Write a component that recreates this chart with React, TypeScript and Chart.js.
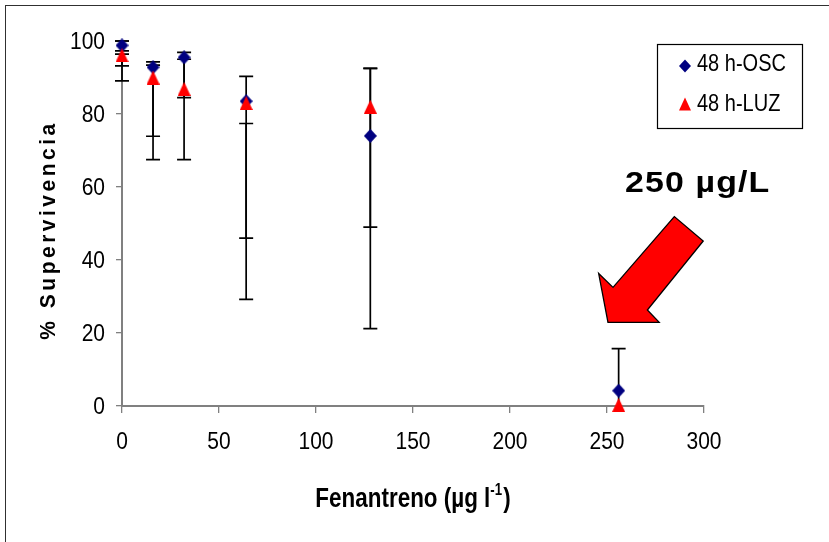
import React, { useEffect, useRef } from "react";
import { Chart, registerables } from "chart.js";

Chart.register(...registerables);

// ---- data ----
const concentrations = [0, 16, 32, 64, 128, 256];
const oscValues = [98.8, 92.8, 95.5, 83.5, 74.0, 4.2];
const luzValues = [96.1, 90.0, 86.9, 83.0, 82.0, 0.3];

// error bar segments: x position, lower end, upper end
const errX = [0, 0, 0, 16, 16, 32, 32, 64, 64, 128, 128, 256];
const errLow = [89.1, 93.2, 97.3, 73.9, 67.5, 84.5, 67.5, 46.0, 29.2, 49.0, 21.2, -7.0];
const errHigh = [100, 96.4, 100, 94.3, 93.4, 96.9, 95.0, 90.3, 77.4, 92.5, 92.5, 15.7];

const xTicks = [0, 50, 100, 150, 200, 250, 300];
const yTicks = [0, 20, 40, 60, 80, 100];

const seriesNames = ["48 h-OSC", "48 h-LUZ"];
const annotationText = "250 µg/L";
// arrow outline in data units (x, y)
const arrowX = [250.5, 245.7, 253.1, 284.7, 299.6, 270.8, 276.9];
const arrowY = [22.9, 36.3, 32.5, 51.9, 45.2, 26.3, 22.9];

const FONT = '"Liberation Sans", Arial, Helvetica, sans-serif';
const OSC_COLOR = "#000080";
const LUZ_COLOR = "#ff0000";

function makeMarker(kind: "diamond" | "triangle", w: number, h: number, color: string) {
  const c = document.createElement("canvas");
  c.width = w;
  c.height = h;
  const g = c.getContext("2d")!;
  g.fillStyle = color;
  g.beginPath();
  if (kind === "diamond") {
    g.moveTo(w / 2, 0);
    g.lineTo(w, h / 2);
    g.lineTo(w / 2, h);
    g.lineTo(0, h / 2);
  } else {
    g.moveTo(w / 2, 0);
    g.lineTo(w, h);
    g.lineTo(0, h);
  }
  g.closePath();
  g.fill();
  return c;
}

function drawText(
  ctx: CanvasRenderingContext2D,
  s: string,
  x: number,
  y: number,
  font: string,
  align: CanvasTextAlign,
  baseline: CanvasTextBaseline,
  sx = 1,
  sy = 1,
  spacing = 0,
  rot = 0
) {
  ctx.save();
  ctx.translate(x, y);
  if (rot) ctx.rotate(rot);
  ctx.scale(sx, sy);
  ctx.font = font;
  (ctx as any).letterSpacing = spacing + "px";
  ctx.textAlign = align;
  ctx.textBaseline = baseline;
  ctx.fillStyle = "#000";
  ctx.fillText(s, 0, 0);
  ctx.restore();
}

const overlayPlugin = {
  id: "overlay",
  beforeDatasetsDraw(chart: any) {
    const ctx: CanvasRenderingContext2D = chart.ctx;
    const xs = chart.scales.x;
    const ys = chart.scales.y;
    const area = chart.chartArea;
    ctx.save();
    ctx.beginPath();
    ctx.rect(area.left - 10, area.top - 1, area.right - area.left + 20, area.bottom - area.top + 2);
    ctx.clip();
    ctx.strokeStyle = "#000";
    ctx.lineWidth = 1.7;
    const cap = 7;
    for (let i = 0; i < errX.length; i++) {
      const px = xs.getPixelForValue(errX[i]);
      const lo = Math.max(0, errLow[i]);
      const hi = Math.min(100, errHigh[i]);
      const pLo = ys.getPixelForValue(lo);
      const pHi = ys.getPixelForValue(hi);
      ctx.beginPath();
      ctx.moveTo(px, pLo);
      ctx.lineTo(px, pHi);
      if (errLow[i] >= 0) {
        ctx.moveTo(px - cap, pLo);
        ctx.lineTo(px + cap, pLo);
      }
      if (errHigh[i] <= 100) {
        ctx.moveTo(px - cap, pHi);
        ctx.lineTo(px + cap, pHi);
      }
      ctx.stroke();
    }
    ctx.restore();
  },
  afterDraw(chart: any) {
    const ctx: CanvasRenderingContext2D = chart.ctx;
    const xs = chart.scales.x;
    const ys = chart.scales.y;
    const area = chart.chartArea;

    // tick labels
    const tickFont = "21px " + FONT;
    for (const v of yTicks) {
      drawText(ctx, String(v), area.left - 17, ys.getPixelForValue(v) + 1, tickFont, "right", "middle", 1, 1.15);
    }
    for (const v of xTicks) {
      drawText(ctx, String(v), xs.getPixelForValue(v), area.bottom + 36, tickFont, "center", "middle", 1, 1.15);
    }

    // y title
    drawText(ctx, "% Supervivencia", 49, 230, "bold 21px " + FONT, "center", "middle", 1, 1.05, 3.5, -Math.PI / 2);

    // x title with superscript
    {
      const cx = (area.left + area.right) / 2;
      const base = 507;
      const f1 = "bold 22px " + FONT;
      const f2 = "bold 13px " + FONT;
      const p1 = "Fenantreno (µg l";
      const p2 = "-1";
      const p3 = ")";
      ctx.save();
      ctx.font = f1;
      const w1 = ctx.measureText(p1).width;
      const w3 = ctx.measureText(p3).width;
      ctx.font = f2;
      const w2 = ctx.measureText(p2).width;
      const sx = 1.02;
      const sy = 1.22;
      const total = (w1 + w2 + w3 + 1) * sx;
      const start = cx - total / 2;
      ctx.restore();
      drawText(ctx, p1, start, base, f1, "left", "alphabetic", sx, sy);
      drawText(ctx, p2, start + w1 * sx, base - 12, f2, "left", "alphabetic", sx, sy);
      drawText(ctx, p3, start + (w1 + w2 + 1) * sx, base, f1, "left", "alphabetic", sx, sy);
    }

    // legend
    ctx.save();
    ctx.fillStyle = "#fff";
    ctx.fillRect(657.5, 44.5, 145, 84);
    ctx.strokeStyle = "#000";
    ctx.lineWidth = 1.2;
    ctx.strokeRect(657.5, 44.5, 145, 84);
    ctx.fillStyle = OSC_COLOR;
    ctx.beginPath();
    ctx.moveTo(685, 59.5);
    ctx.lineTo(691, 66);
    ctx.lineTo(685, 72.5);
    ctx.lineTo(679, 66);
    ctx.closePath();
    ctx.fill();
    ctx.fillStyle = LUZ_COLOR;
    ctx.beginPath();
    ctx.moveTo(685, 97.5);
    ctx.lineTo(691, 110.5);
    ctx.lineTo(679, 110.5);
    ctx.closePath();
    ctx.fill();
    ctx.restore();
    const legFont = "20px " + FONT;
    drawText(ctx, seriesNames[0], 697, 64, legFont, "left", "middle", 1, 1.2);
    drawText(ctx, seriesNames[1], 697, 104, legFont, "left", "middle", 1, 1.2);

    // annotation text
    drawText(ctx, annotationText, 625, 192, "bold 30px " + FONT, "left", "alphabetic", 1.13, 1, 1);

    // arrow
    ctx.save();
    ctx.beginPath();
    for (let i = 0; i < arrowX.length; i++) {
      const px = xs.getPixelForValue(arrowX[i]);
      const py = ys.getPixelForValue(arrowY[i]);
      if (i === 0) ctx.moveTo(px, py);
      else ctx.lineTo(px, py);
    }
    ctx.closePath();
    ctx.fillStyle = "#ff0000";
    ctx.fill();
    ctx.strokeStyle = "#000";
    ctx.lineWidth = 1.3;
    ctx.lineJoin = "miter";
    ctx.stroke();
    ctx.restore();
  },
};

export default function App() {
  const ref = useRef<HTMLCanvasElement | null>(null);

  useEffect(() => {
    if (!ref.current) return;
    const diamond = makeMarker("diamond", 13, 14, OSC_COLOR);
    const triangle = makeMarker("triangle", 13, 14, LUZ_COLOR);
    const chart = new Chart(ref.current, {
      type: "scatter",
      data: {
        datasets: [
          {
            label: seriesNames[0],
            data: concentrations.map((x, i) => ({ x, y: oscValues[i] })),
            pointStyle: diamond,
            pointRadius: 7,
            backgroundColor: OSC_COLOR,
            borderColor: OSC_COLOR,
            showLine: false,
            order: 1,
          },
          {
            label: seriesNames[1],
            data: concentrations.map((x, i) => ({ x, y: luzValues[i] })),
            pointStyle: triangle,
            pointRadius: 7,
            backgroundColor: LUZ_COLOR,
            borderColor: LUZ_COLOR,
            showLine: false,
            order: 0,
          },
        ],
      },
      options: {
        responsive: false,
        animation: false,
        devicePixelRatio: 1,
        clip: false,
        layout: { padding: { left: 0, right: 125, top: 41, bottom: 0 } },
        plugins: {
          legend: { display: false },
          tooltip: { enabled: false },
          title: { display: false },
        },
        scales: {
          x: {
            type: "linear",
            min: 0,
            max: 300,
            afterFit: (s: any) => {
              s.height = 136;
            },
            afterBuildTicks: (s: any) => {
              s.ticks = xTicks.map((v) => ({ value: v }));
            },
            ticks: { display: false },
            grid: {
              drawOnChartArea: false,
              drawTicks: true,
              tickLength: 7,
              color: "#808080",
              lineWidth: 1.3,
            },
            border: { display: true, color: "#808080", width: 2 },
          },
          y: {
            type: "linear",
            min: 0,
            max: 100,
            afterFit: (s: any) => {
              s.width = 122;
            },
            afterBuildTicks: (s: any) => {
              s.ticks = yTicks.map((v) => ({ value: v }));
            },
            ticks: { display: false },
            grid: {
              drawOnChartArea: false,
              drawTicks: true,
              tickLength: 6,
              color: "#808080",
              lineWidth: 1.3,
            },
            border: { display: true, color: "#808080", width: 2 },
          },
        },
      },
      plugins: [overlayPlugin],
    } as any);
    return () => chart.destroy();
  }, []);

  return (
    <div
      style={{
        position: "absolute",
        left: 0,
        top: 0,
        width: 829,
        height: 542,
        overflow: "hidden",
        background: "#fff",
      }}
    >
      <div
        style={{
          position: "absolute",
          left: 5,
          top: 5,
          width: 1000,
          height: 1000,
          border: "1px solid #303030",
        }}
      />
      <canvas ref={ref} width={829} height={542} style={{ position: "absolute", left: 0, top: 0, display: "block" }} />
    </div>
  );
}
